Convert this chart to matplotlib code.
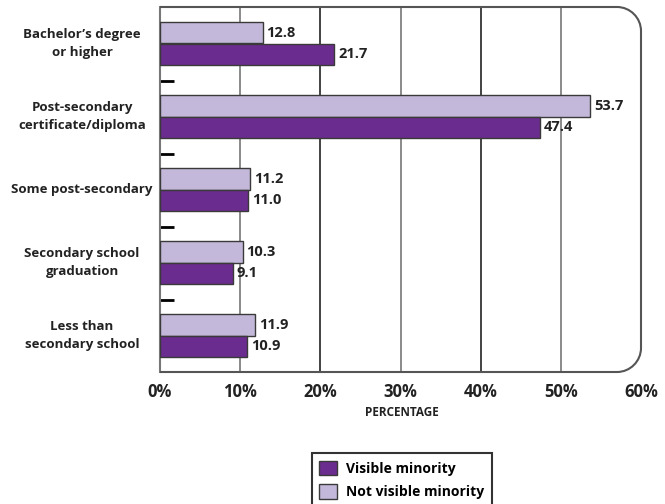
import matplotlib.pyplot as plt
import matplotlib.transforms as mtransforms
from matplotlib.path import Path
from matplotlib.patches import PathPatch, Patch
import numpy as np

plt.rcParams['font.family'] = ['Open Sans', 'DejaVu Sans']

# data
categories = ["Bachelor\u2019s degree\nor higher",
              "Post-secondary\ncertificate/diploma",
              "Some post-secondary",
              "Secondary school\ngraduation",
              "Less than\nsecondary school"]
not_visible = [12.8, 53.7, 11.2, 10.3, 11.9]
visible = [21.7, 47.4, 11.0, 9.1, 10.9]
xticks = [0, 10, 20, 30, 40, 50, 60]
xtick_labels = ["0%", "10%", "20%", "30%", "40%", "50%", "60%"]

dark = "#6B2C8F"
light = "#C3B8D9"
edge = "#3a3a3a"

fig = plt.figure(figsize=(6.65, 5.04), dpi=100)
ax = fig.add_axes([160 / 665, 1 - 372 / 504, 481 / 665, 365 / 504])

y = np.arange(len(categories))
h = 0.295
ax.barh(y - h / 2, not_visible, height=h, color=light, edgecolor=edge, linewidth=1, zorder=3)
ax.barh(y + h / 2, visible, height=h, color=dark, edgecolor=edge, linewidth=1, zorder=3)

# value labels
for i in range(len(categories)):
    ax.text(not_visible[i] + 0.5, y[i] - h / 2, f"{not_visible[i]:.1f}", va='center', ha='left',
            fontsize=10.5, fontweight='bold', color='#222222', zorder=4)
    ax.text(visible[i] + 0.5, y[i] + h / 2, f"{visible[i]:.1f}", va='center', ha='left',
            fontsize=10.5, fontweight='bold', color='#222222', zorder=4)

ax.set_xlim(0, 60)
ax.set_ylim(len(categories) - 0.5, -0.5)

# grid lines
for xv in [10, 20, 30, 40, 50]:
    col = '#222222' if xv in (20, 40) else '#777777'
    ax.axvline(xv, color=col, linewidth=1.2, zorder=1)

ax.set_xticks(xticks)
ax.set_xticklabels(xtick_labels, fontsize=12, fontweight='bold', color='#222222')
ax.tick_params(axis='x', length=0, pad=8)

ax.set_yticks([])
ax.set_yticks(y[:-1] + 0.52, minor=True)
ax.tick_params(axis='y', which='minor', direction='in', length=10, width=2, color='black')

for s in ['top', 'right', 'bottom']:
    ax.spines[s].set_visible(False)
ax.spines['left'].set_color('#777777')
ax.spines['left'].set_linewidth(1.5)

# rounded frame on the right side
rx, ry = 24 / 481, 24 / 365
k = 0.55
verts = [(0, 1), (1 - rx, 1),
         (1 - rx + k * rx, 1), (1, 1 - ry + k * ry), (1, 1 - ry),
         (1, ry),
         (1, ry - k * ry), (1 - rx + k * rx, 0), (1 - rx, 0),
         (0, 0)]
codes = [Path.MOVETO, Path.LINETO,
         Path.CURVE4, Path.CURVE4, Path.CURVE4,
         Path.LINETO,
         Path.CURVE4, Path.CURVE4, Path.CURVE4,
         Path.LINETO]
frame = PathPatch(Path(verts, codes), transform=ax.transAxes, fill=False,
                  edgecolor='#555555', linewidth=1.5, clip_on=False, zorder=5)
ax.add_patch(frame)

# category labels
trans = mtransforms.blended_transform_factory(fig.transFigure, ax.transData)
for i, c in enumerate(categories):
    ax.text(82 / 665, y[i], c, transform=trans, ha='center', va='center',
            multialignment='center', fontsize=9.5, fontweight='bold', color='#222222',
            linespacing=1.5)

fig.text(402 / 665, 1 - 413 / 504, "PERCENTAGE", ha='center', va='center',
         fontsize=8.5, fontweight='bold', color='#222222')

handles = [Patch(facecolor=dark, edgecolor=edge), Patch(facecolor=light, edgecolor=edge)]
leg = fig.legend(handles, ["Visible minority", "Not visible minority"],
                 loc='upper center', bbox_to_anchor=(402 / 665, 1 - 446 / 504),
                 frameon=True, fancybox=False, edgecolor='black',
                 prop={'weight': 'bold', 'size': 10}, handlelength=1.25, handleheight=1.25,
                 borderpad=0.55, labelspacing=0.6, handletextpad=0.7)
leg.get_frame().set_linewidth(1.5)

plt.savefig("out.png", dpi=100)
